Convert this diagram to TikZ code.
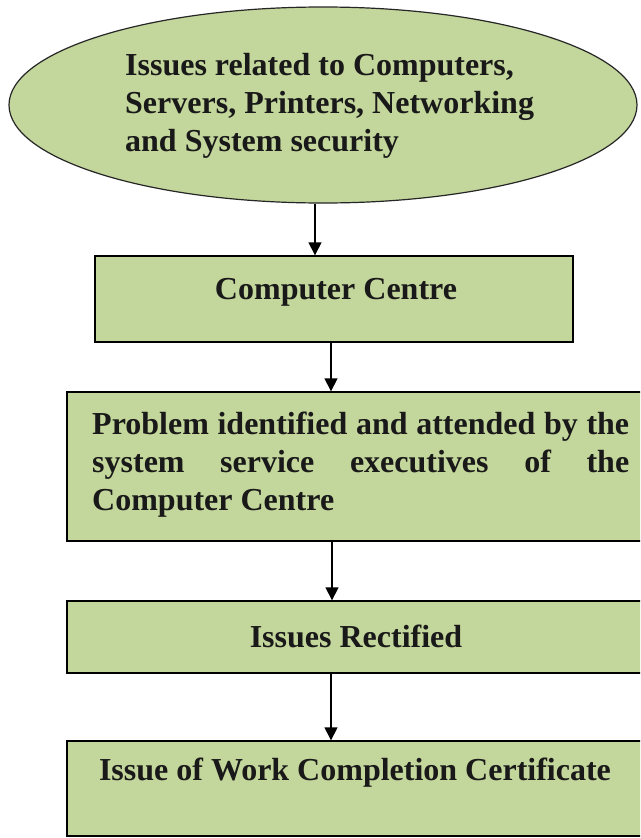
\documentclass[tikz,border=0pt]{standalone}
\usepackage{fontspec}
\setmainfont{Liberation Serif}
\usetikzlibrary{arrows.meta,shapes.geometric}

\definecolor{boxgreen}{HTML}{C3D69B}

\tikzset{
  flowbox/.style={draw=black, line width=1.4pt, fill=boxgreen, rectangle, inner sep=0pt},
  startshape/.style={draw=black!85, line width=1.2pt, fill=boxgreen, ellipse, inner sep=0pt},
  label/.style={font=\fontsize{32}{38}\selectfont\bfseries, inner sep=0pt, text=black!90},
  arr/.style={draw=black, line width=1.5pt, -{Triangle[width=13pt,length=13pt]}},
}

\begin{document}
\begin{tikzpicture}[x=1pt,y=-1pt]
  \useasboundingbox (0,0) rectangle (640,838);
  \fill[white] (0,0) rectangle (640,838);
  \clip (0,0) rectangle (640,838);

  % start: the kinds of issue reported
  \node[startshape, minimum width=628pt, minimum height=196pt] (e) at (323,105) {};
  \node[label, anchor=west, align=left] (etext) at (125,106)
    {Issues related to Computers,\\Servers, Printers, Networking\\and System security};

  % process boxes
  \node[flowbox, minimum width=478pt, minimum height=86pt] (b1) at (334,299) {};
  \node[label] (b1text) at (336,292) {Computer Centre};

  \node[flowbox, minimum width=593pt, minimum height=149pt] (b2) at (363.5,466.5) {};
  \node[label, anchor=west, align=left] (b2text) at (92,465)
    {\makebox[537pt][s]{Problem identified and attended by the}\\
     \makebox[537pt][s]{system service executives of the}\\
     Computer Centre};

  \node[flowbox, minimum width=593pt, minimum height=72pt] (b3) at (363.5,637) {};
  \node[label] (b3text) at (356,636) {Issues Rectified};

  \node[flowbox, minimum width=593pt, minimum height=95pt] (b4) at (363.5,788.5) {};
  \node[label] (b4text) at (355,773) {Issue of Work Completion Certificate};

  % connector columns
  \coordinate (ax1) at (315,0);
  \coordinate (ax2) at (331,0);
  \coordinate (ax3) at (332,0);
  \coordinate (ax4) at (331,0);

  \draw[arr] (e.south -| ax1) -- (b1.north -| ax1);
  \draw[arr] (b1.south -| ax2) -- (b2.north -| ax2);
  \draw[arr] (b2.south -| ax3) -- (b3.north -| ax3);
  \draw[arr] (b3.south -| ax4) -- (b4.north -| ax4);
\end{tikzpicture}
\end{document}
